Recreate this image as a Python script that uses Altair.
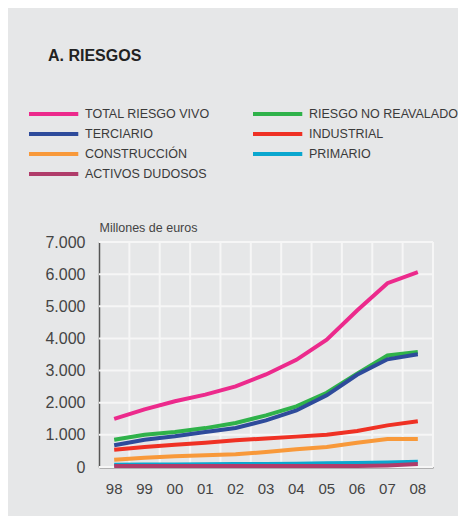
import altair as alt
import pandas as pd

years = ["98", "99", "00", "01", "02", "03", "04", "05", "06", "07", "08"]
y_ticks = [0, 1000, 2000, 3000, 4000, 5000, 6000, 7000]

series_names = [
    "TOTAL RIESGO VIVO",
    "RIESGO NO REAVALADO",
    "TERCIARIO",
    "INDUSTRIAL",
    "CONSTRUCCIÓN",
    "PRIMARIO",
    "ACTIVOS DUDOSOS",
]
series_colors = ["#ec2a8c", "#2fb24a", "#2e4b9b", "#ef3124", "#f8993a", "#0aa7cf", "#b03c6a"]

total_riesgo_vivo = [1500, 1795, 2045, 2250, 2510, 2880, 3335, 3960, 4870, 5720, 6060]
riesgo_no_reavalado = [850, 1005, 1090, 1210, 1370, 1605, 1885, 2310, 2900, 3470, 3575]
terciario = [675, 850, 955, 1090, 1215, 1450, 1760, 2230, 2870, 3350, 3505]
industrial = [540, 620, 695, 755, 830, 890, 945, 1005, 1120, 1295, 1420]
construccion = [228, 290, 332, 362, 394, 465, 550, 620, 755, 870, 870]
primario = [70, 75, 80, 85, 90, 95, 105, 115, 125, 140, 160]
activos_dudosos = [30, 30, 30, 30, 30, 30, 30, 30, 30, 50, 90]

all_values = [total_riesgo_vivo, riesgo_no_reavalado, terciario, industrial,
              construccion, primario, activos_dudosos]

rows = []
for name, vals in zip(series_names, all_values):
    for i, (y, v) in enumerate(zip(years, vals)):
        rows.append({"serie": name, "year": y, "idx": i, "value": v})
df = pd.DataFrame(rows)

legend_df = pd.DataFrame({
    "serie": series_names,
    "col": [i % 2 for i in range(len(series_names))],
    "row": [i // 2 for i in range(len(series_names))],
})

color_scale = alt.Scale(domain=series_names, range=series_colors)
FONT = "Liberation Sans"
PLOT_W, PLOT_H = 334, 225
GRID = "#f6f6f6"

# ---- legend panel ----
leg_base = alt.Chart(legend_df).transform_calculate(
    x0="datum.col", x1="datum.col + 0.22", xt="datum.col + 0.25"
)
leg_x = alt.Scale(domain=[0, 2], range=[-70, 378])
leg_y = alt.Scale(domain=[-0.5, 3.5], reverse=True)
leg_rules = leg_base.mark_rule(strokeWidth=4).encode(
    x=alt.X("x0:Q", scale=leg_x, axis=None),
    x2="x1:Q",
    y=alt.Y("row:Q", scale=leg_y, axis=None),
    color=alt.Color("serie:N", scale=color_scale, legend=None),
)
leg_text = leg_base.mark_text(align="left", baseline="middle", fontSize=12.5,
                              font=FONT, color="#3a3a3a").encode(
    x=alt.X("xt:Q", scale=leg_x, axis=None),
    y=alt.Y("row:Q", scale=leg_y, axis=None),
    text="serie:N",
)
legend_panel = alt.layer(leg_rules, leg_text).properties(width=PLOT_W, height=80)

# ---- main plot ----
x_scale = alt.Scale(type="band", paddingInner=0, paddingOuter=0)
y_scale = alt.Scale(domain=[0, 7000], nice=False)

x_axis = alt.Axis(title=None, grid=False, ticks=False, tickSize=0,
                  labelFontSize=15, labelFont=FONT, labelColor="#444",
                  labelPadding=14, labelAngle=0, domainColor="#7a7a7a",
                  domainWidth=2)
y_axis = alt.Axis(values=y_ticks,
                  labelExpr="replace(format(datum.value, ','), ',', '.')",
                  title="Millones de euros", titleAngle=0, titleX=0, titleY=-15,
                  titleAlign="left", titleBaseline="middle", titleFontSize=12.5,
                  titleFont=FONT, titleFontWeight="normal", titleColor="#444",
                  grid=False, ticks=False, tickSize=0, labelFontSize=16,
                  labelFont=FONT, labelColor="#444", labelPadding=14,
                  domainColor="#555", domainWidth=1.5, minExtent=70)

ygrid = alt.Chart(pd.DataFrame({"value": y_ticks})).mark_rule(
    color=GRID, strokeWidth=2).encode(
    y=alt.Y("value:Q", scale=y_scale, axis=y_axis, title="Millones de euros"))
xgrid = alt.Chart(pd.DataFrame({"year": years})).mark_rule(
    color=GRID, strokeWidth=2).encode(
    x=alt.X("year:O", sort=years, bandPosition=1, scale=x_scale, axis=x_axis))

lines = alt.Chart(df).mark_line(strokeWidth=4).encode(
    x=alt.X("year:O", sort=years, bandPosition=0.5, scale=x_scale, axis=x_axis),
    y=alt.Y("value:Q", scale=y_scale, axis=y_axis, title="Millones de euros"),
    color=alt.Color("serie:N", scale=color_scale, legend=None),
    order=alt.Order("idx:Q"),
)
plot_panel = alt.layer(ygrid, xgrid, lines).properties(width=PLOT_W, height=PLOT_H)

chart = alt.vconcat(legend_panel, plot_panel, spacing=37).properties(
    title=alt.Title("A. RIESGOS", anchor="start", fontSize=16, fontWeight="bold",
                    font=FONT, color="#222", dx=21, offset=40),
    padding={"left": 19, "top": 40, "right": 0, "bottom": 20},
    background="#e6e7e8",
).configure_view(stroke=None).configure_concat(spacing=37)

chart.save("out.html", embed_options={"renderer": "svg", "actions": False})
